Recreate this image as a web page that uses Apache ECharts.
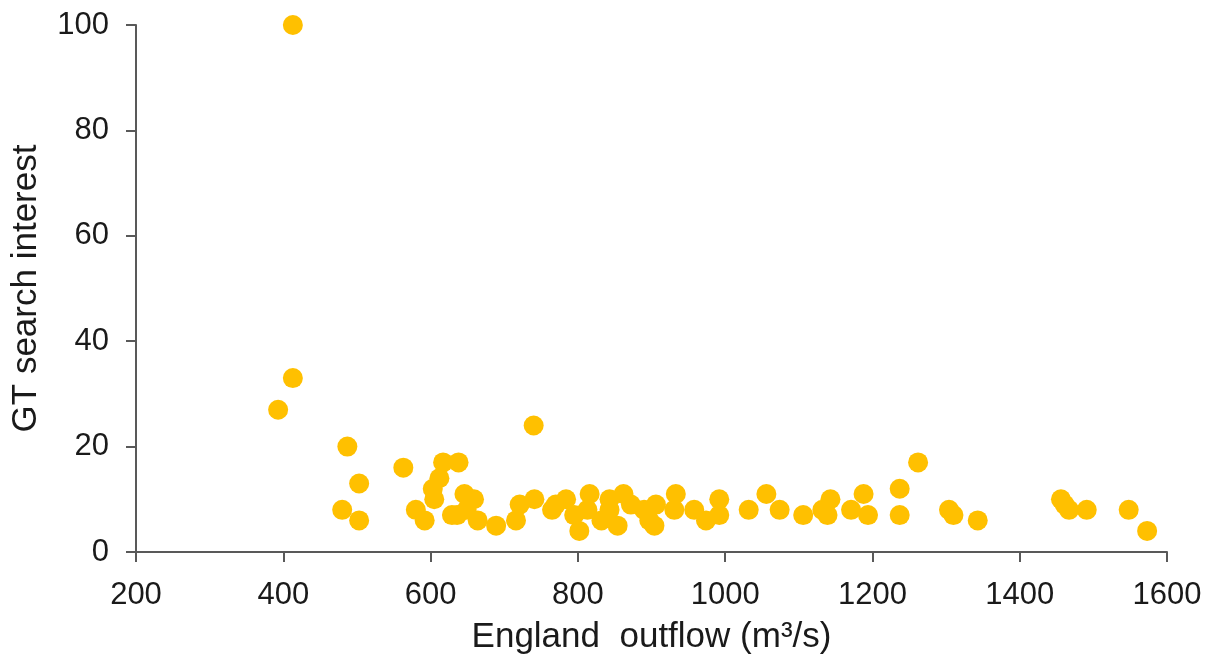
<!DOCTYPE html>
<html>
<head>
<meta charset="utf-8">
<style>
  html, body { margin: 0; padding: 0; background: #ffffff; }
  #chart { width: 1219px; height: 666px; }
</style>
<script src="https://cdn.jsdelivr.net/npm/echarts@6/dist/echarts.min.js"></script>
</head>
<body>
<div id="chart"></div>
<script>
// England outflow (m³/s) for each observation
const outflow = [
  413, 413, 393, 487, 503, 480, 503,
  563, 580, 592, 617, 638, 612, 603, 605, 629, 636, 646, 659, 649, 664,
  689, 716, 721, 740, 741, 765, 770, 784, 795, 802, 816, 813, 832, 843, 843,
  854, 862, 872, 890, 897, 904, 906, 933, 931, 958, 974, 992, 992,
  1032, 1056, 1074, 1106, 1132, 1143, 1139, 1171, 1188, 1194, 1237, 1237,
  1262, 1304, 1310, 1343, 1456, 1461, 1467, 1491, 1548, 1573
];
// Google Trends search interest for the same observations
const interest = [
  100, 33, 27, 20, 13, 8, 6,
  16, 8, 6, 17, 17, 14, 12, 10, 7, 7, 11, 10, 8, 6,
  5, 6, 9, 24, 10, 8, 9, 10, 7, 4, 11, 8, 6, 10, 8,
  5, 11, 9, 8, 6, 5, 9, 11, 8, 8, 6, 10, 7,
  8, 11, 8, 7, 8, 10, 7, 8, 11, 7, 12, 7,
  17, 8, 7, 6, 10, 9, 8, 8, 8, 4
];

const xTitle = 'England  outflow (m³/s)';
const yTitle = 'GT search interest';

const points = outflow.map((x, i) => [x, interest[i]]);

const font = '"Liberation Sans", Arial, sans-serif';
const axisColor = '#595959';
const textColor = '#1a1a1a';
const plain = v => String(v);

const chart = echarts.init(document.getElementById('chart'), null, { renderer: 'canvas' });
chart.setOption({
  animation: false,
  backgroundColor: '#ffffff',
  grid: { left: 136, right: 52, top: 25, bottom: 114, containLabel: false },
  xAxis: {
    type: 'value',
    min: 200, max: 1600, interval: 200,
    name: xTitle,
    nameLocation: 'middle',
    nameGap: 68,
    nameTextStyle: { fontFamily: font, fontSize: 35, color: textColor },
    axisLine: { show: true, onZero: false, lineStyle: { color: axisColor, width: 2 } },
    axisTick: { show: true, length: 10, inside: false, lineStyle: { color: axisColor, width: 2 } },
    axisLabel: { fontFamily: font, fontSize: 31, color: textColor, margin: 28, formatter: plain },
    splitLine: { show: false }
  },
  yAxis: {
    type: 'value',
    min: 0, max: 100, interval: 20,
    name: yTitle,
    nameLocation: 'middle',
    nameGap: 92,
    nameRotate: 90,
    nameTextStyle: { fontFamily: font, fontSize: 35, color: textColor },
    axisLine: { show: true, lineStyle: { color: axisColor, width: 2 } },
    axisTick: { show: true, length: 10, inside: false, lineStyle: { color: axisColor, width: 2 } },
    axisLabel: { fontFamily: font, fontSize: 31, color: textColor, margin: 27, formatter: plain },
    splitLine: { show: false }
  },
  series: [{
    type: 'scatter',
    data: points,
    symbol: 'circle',
    symbolSize: 20,
    itemStyle: { color: '#FFC000', opacity: 1 }
  }]
});
</script>
</body>
</html>
